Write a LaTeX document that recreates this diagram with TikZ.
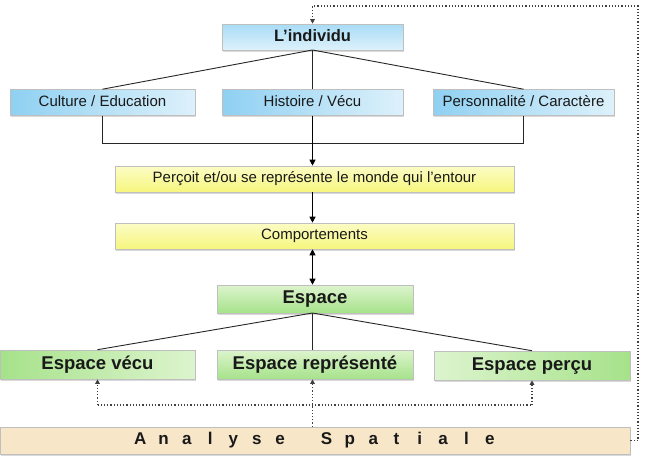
\documentclass[tikz,border=0pt]{standalone}
\usepackage{fontspec}
\setmainfont{Liberation Sans}
\usetikzlibrary{shadows,arrows.meta}
\definecolor{bluedark}{HTML}{8FD0F2}
\definecolor{bluelight}{HTML}{DDF1FB}
\definecolor{bluetop}{HTML}{A8DCF6}
\definecolor{yelA}{HTML}{FCFCC6}
\definecolor{yelB}{HTML}{F6F67E}
\definecolor{grnA}{HTML}{DDF4CE}
\definecolor{grnB}{HTML}{A6E28A}
\definecolor{beige}{HTML}{F7E6C8}
\tikzset{
  x=1pt,y=-1pt,
  boxbase/.style={draw=black!25,line width=0.6pt,drop shadow={shadow xshift=1.2pt,shadow yshift=-1.5pt,opacity=0.3},inner sep=0pt,text=black!90},
  bluebox/.style={boxbase,left color=bluedark,right color=bluelight,font=\fontsize{15}{17}\selectfont,text height=10.8pt,text depth=3pt},
  bluetopbox/.style={boxbase,top color=bluetop,bottom color=bluelight,font=\fontsize{16.5}{18}\selectfont\bfseries,text height=11.9pt,text depth=3.3pt},
  yelbox/.style={boxbase,top color=yelA,bottom color=yelB,font=\fontsize{15}{17}\selectfont,text height=10.8pt,text depth=3pt},
  grnfont/.style={font=\fontsize{18.5}{20}\selectfont\bfseries,text height=13.3pt,text depth=3.7pt},
  grnbox/.style={boxbase,top color=grnA,bottom color=grnB,grnfont},
  grnL/.style={boxbase,left color=grnB,right color=grnA,grnfont},
  grnR/.style={boxbase,left color=grnA,right color=grnB,grnfont},
  begebox/.style={boxbase,fill=beige,font=\fontsize{17}{19}\selectfont\bfseries,text height=12.2pt,text depth=3.4pt},
  tree/.style={draw=black!85,line width=0.9pt},
  arr/.style={draw=black,line width=1.1pt,-{Triangle[length=6pt,width=6pt]}},
  darr/.style={draw=black,line width=1.1pt,{Triangle[length=6pt,width=6pt]}-{Triangle[length=6pt,width=6pt]}},
  dot/.style={draw=black!75,line width=1.2pt,dotted,-{Triangle[length=4.5pt,width=4.5pt]}},
  dotl/.style={draw=black!75,line width=1.2pt,dotted},
}
\newcommand{\lsp}[1]{\makebox[23.3pt]{#1}}
\begin{document}
\begin{tikzpicture}
\useasboundingbox (0,0) rectangle (646,461);
\node[bluetopbox,minimum width=181pt,minimum height=26pt] (ind) at (312.5,37) {L’individu};
\node[bluebox,minimum width=185pt,minimum height=26pt] (cul) at (102.5,102.5) {Culture / Education};
\node[bluebox,minimum width=181pt,minimum height=26pt] (his) at (312.5,102.5) {Histoire / Vécu};
\node[bluebox,minimum width=181pt,minimum height=26pt] (per) at (523.5,102.5) {Personnalité / Caractère};
\node[yelbox,minimum width=399pt,minimum height=26pt] (perc) at (314.5,179) {Perçoit et/ou se représente le monde qui l’entour};
\node[yelbox,minimum width=399pt,minimum height=26pt] (comp) at (314.5,236) {Comportements};
\node[grnbox,minimum width=196pt,minimum height=28pt] (esp) at (315,299) {Espace};
\node[grnL,minimum width=195pt,minimum height=29pt] (ev) at (97.5,364.5) {Espace vécu};
\node[grnbox,minimum width=196pt,minimum height=29pt] (er) at (315,364.5) {Espace représenté};
\node[grnR,minimum width=196pt,minimum height=29pt] (ep) at (532,365.5) {Espace perçu};
\node[begebox,minimum width=630pt,minimum height=27pt] (an) at (315,440.5) {\lsp{A}\lsp{n}\lsp{a}\lsp{l}\lsp{y}\lsp{s}\lsp{e}\lsp{ }\lsp{S}\lsp{p}\lsp{a}\lsp{t}\lsp{i}\lsp{a}\lsp{l}\lsp{e}};
% tree from individu
\coordinate (indb) at (312.5,50);
\draw[tree] (indb) -- (cul.north);
\draw[tree] (indb) -- (his.north);
\draw[tree] (indb) -- (per.north);
% bracket
\coordinate (bl) at (102.5,143);
\coordinate (br) at (523.5,143);
\draw[tree] (cul.south) -- (bl) -- (br) -- (per.south);
\draw[arr] (his.south) -- (perc.north -| his.south);
\draw[arr] (perc.south -| his.south) -- (comp.north -| his.south);
\draw[darr] (comp.south -| his.south) -- (esp.north -| his.south);
% espace tree
\coordinate (espb) at (312.5,313);
\draw[tree] (espb) -- (ev.north);
\draw[tree] (espb) -- (er.north -| espb);
\draw[tree] (espb) -- (ep.north);
% dotted
\coordinate (dl) at (97.5,405);
\coordinate (dr) at (532,405);
\coordinate (dm) at (312.5,405);
\draw[dot] (an.north -| dm) -- (er.south -| dm);
\draw[dotl] (dl) -- (dr);
\draw[dot] (dl) -- (ev.south);
\draw[dot] (dr) -- (ep.south);
\coordinate (c1) at (638,440.5);
\coordinate (c2) at (638,6);
\coordinate (c3) at (312.5,6);
\draw[dot] (an.east) -- (c1) -- (c2) -- (c3) -- (ind.north);
\end{tikzpicture}
\end{document}
